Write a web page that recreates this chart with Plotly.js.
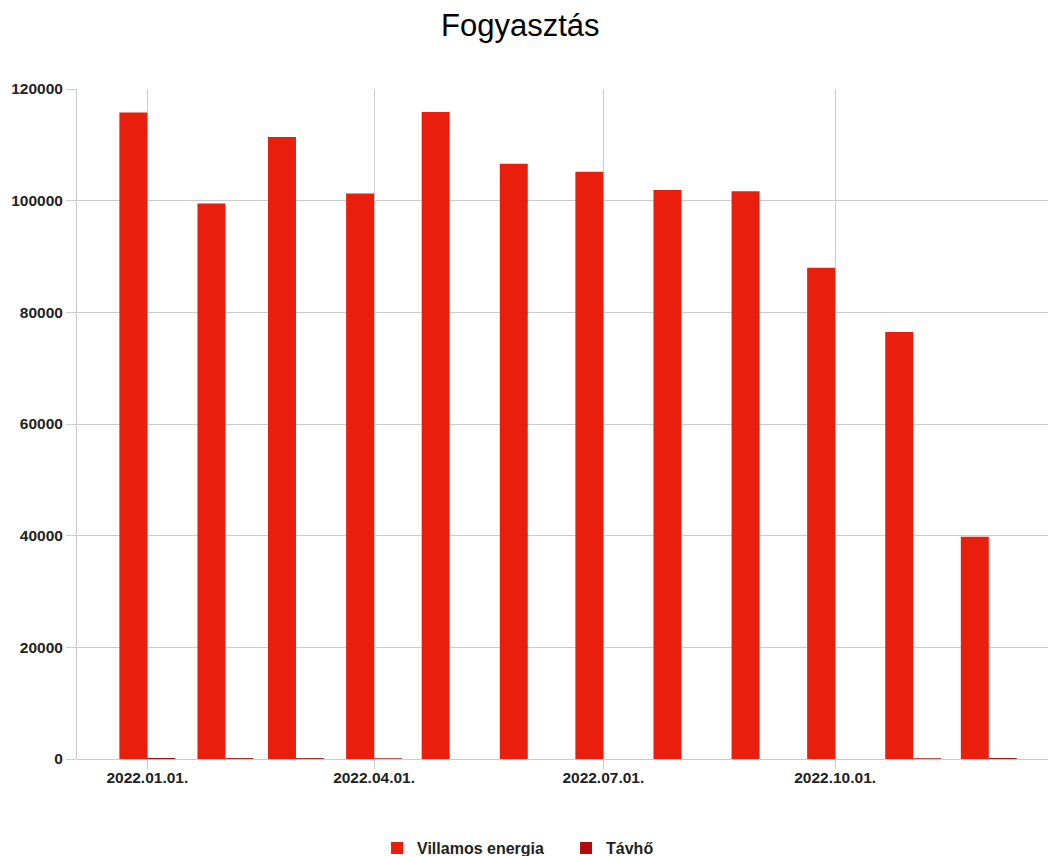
<!DOCTYPE html>
<html>
<head>
<meta charset="utf-8">
<script src="https://cdn.plot.ly/plotly-3.0.1.min.js"></script>
<style>html,body{margin:0;padding:0;background:#fff;}#chart{width:1049px;height:856px;}</style>
</head>
<body>
<div id="chart"></div>
<script>
const months = ['2022-01-01','2022-02-01','2022-03-01','2022-04-01','2022-05-01','2022-06-01','2022-07-01','2022-08-01','2022-09-01','2022-10-01','2022-11-01','2022-12-01'];
const villamosEnergia = [115800, 99500, 111400, 101300, 115900, 106600, 105200, 101900, 101700, 88000, 76500, 39800];
const tavho = [180, 160, 150, 120, 0, 0, 0, 0, 0, 0, 130, 170];
const seriesNames = ['Villamos energia', 'Távhő'];
const tickVals = ['2022-01-01','2022-04-01','2022-07-01','2022-10-01'];
const tickText = ['2022.01.01.','2022.04.01.','2022.07.01.','2022.10.01.'];

const DAY = 86400000;
const barW = 11.1 * DAY;

const traces = [
  {type:'bar', name:seriesNames[0], x:months, y:villamosEnergia, width:barW, offset:-barW,
   marker:{color:'#e91e0c', line:{width:0}}},
  {type:'bar', name:seriesNames[1], x:months, y:tavho, width:barW, offset:0,
   marker:{color:'#b10b0b', line:{width:0}}}
];

const layout = {
  width:1049, height:856,
  margin:{l:77, r:1, t:89, b:97, pad:0, autoexpand:false},
  paper_bgcolor:'#fff', plot_bgcolor:'#fff',
  barmode:'overlay',
  font:{family:'"Liberation Sans", Arial, sans-serif', color:'#222'},
  title:{text:'Fogyasztás', x:0.496, xanchor:'center', y:0.971, yanchor:'middle',
         font:{size:31, color:'#000', family:'"Liberation Sans", Arial, sans-serif'}},
  xaxis:{type:'date', range:['2021-12-04 02:00','2022-12-24 12:00'], automargin:false,
         tickmode:'array', tickvals:tickVals, ticktext:tickText,
         ticks:'outside', ticklen:9, tickcolor:'#ccc', tickwidth:1, ticklabelstandoff:-5,
         showgrid:true, gridcolor:'#ccc', gridwidth:1,
         showline:false, zeroline:false,
         tickfont:{size:15.5, weight:'bold', color:'#222'}},
  yaxis:{range:[0,120000], dtick:20000, tick0:0, automargin:false,
         ticks:'outside', ticklen:10, tickcolor:'#ccc', tickwidth:1,
         showgrid:true, gridcolor:'#ccc', gridwidth:1,
         showline:true, linecolor:'#ccc', linewidth:1,
         zeroline:true, zerolinecolor:'#ccc', zerolinewidth:1,
         tickformat:'d',
         tickfont:{size:15.5, weight:'bold', color:'#222'}},
  showlegend:true,
  legend:{orientation:'h', x:0.309, xanchor:'left', y:-0.133, yanchor:'middle',
          font:{size:16, weight:'bold', color:'#222'}, itemwidth:30, traceorder:'normal',
          entrywidth:144, entrywidthmode:'pixels'}
};

Plotly.newPlot('chart', traces, layout, {displayModeBar:false, staticPlot:true});
</script>
</body>
</html>
